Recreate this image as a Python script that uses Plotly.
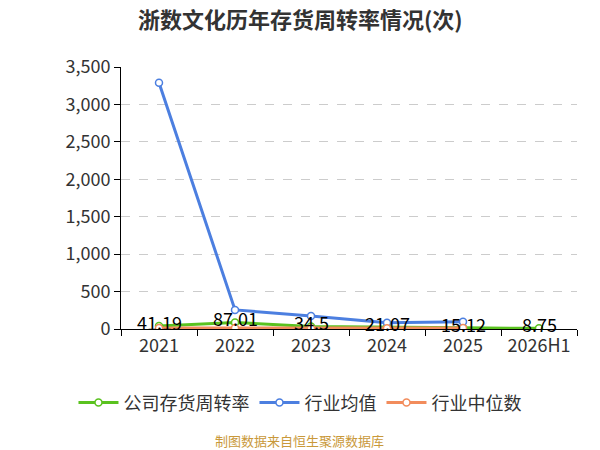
import plotly.graph_objects as go

categories = ["2021", "2022", "2023", "2024", "2025", "2026H1"]
company = [41.19, 87.01, 34.5, 21.07, 15.12, 8.75]
company_labels = ["41.19", "87.01", "34.5", "21.07", "15.12", "8.75"]
industry_avg = [3290, 255, 175, 85, 97, None]
industry_median = [12, 12, 9, 10, 12, None]

FONT = "Noto Sans CJK SC"
GREEN = "#5ac21f"
BLUE = "#4c7fe0"
ORANGE = "#f28c5c"

fig = go.Figure()

def add(name, y, color):
    fig.add_trace(go.Scatter(
        x=categories, y=y, name=name, mode="lines+markers",
        line=dict(color=color, width=3),
        marker=dict(symbol="circle", size=7, color="white",
                    line=dict(color=color, width=1.5)),
        connectgaps=False,
    ))

add("公司存货周转率", company, GREEN)
add("行业均值", industry_avg, BLUE)
add("行业中位数", industry_median, ORANGE)

for i, (v, t) in enumerate(zip(company, company_labels)):
    fig.add_annotation(x=i, y=v, text=t, showarrow=False, yshift=4,
                       font=dict(family=FONT, size=18, color="#000"))

fig.add_annotation(xref="paper", yref="paper", x=0.3925, y=-0.427,
                   xanchor="center", yanchor="middle",
                   text="制图数据来自恒生聚源数据库", showarrow=False,
                   font=dict(family=FONT, size=13, color="#c9993a"))

fig.update_layout(
    width=600, height=450,
    margin=dict(l=113, r=31, t=59, b=129),
    paper_bgcolor="white", plot_bgcolor="white",
    title=dict(text="<b>浙数文化历年存货周转率情况(次)</b>", x=0.487, xanchor="center",
               y=0.972, yanchor="middle",
               font=dict(family=FONT, size=22, color="#333")),
    font=dict(family=FONT, size=18, color="#333"),
    legend=dict(orientation="h", x=0.3925, xanchor="center", y=-0.282, yanchor="middle",
                font=dict(family=FONT, size=18, color="#333"),
                itemwidth=40),
    showlegend=True,
)
fig.update_xaxes(type="category", showline=True, linecolor="#000", linewidth=1,
                 ticks="outside", ticklen=6, tickcolor="#000", showgrid=False,
                 tickson="boundaries",
                 tickfont=dict(family=FONT, size=18, color="#333"),
                 range=[-0.5, 5.5])
fig.update_yaxes(range=[0, 3500], dtick=500, tickformat=",", showline=True,
                 linecolor="#000", linewidth=1, ticks="outside", ticklen=6,
                 tickcolor="#000", showgrid=True, gridcolor="#cccccc",
                 griddash="dash", zeroline=False,
                 tickfont=dict(family=FONT, size=18, color="#333"))

fig.write_html("out.html")
